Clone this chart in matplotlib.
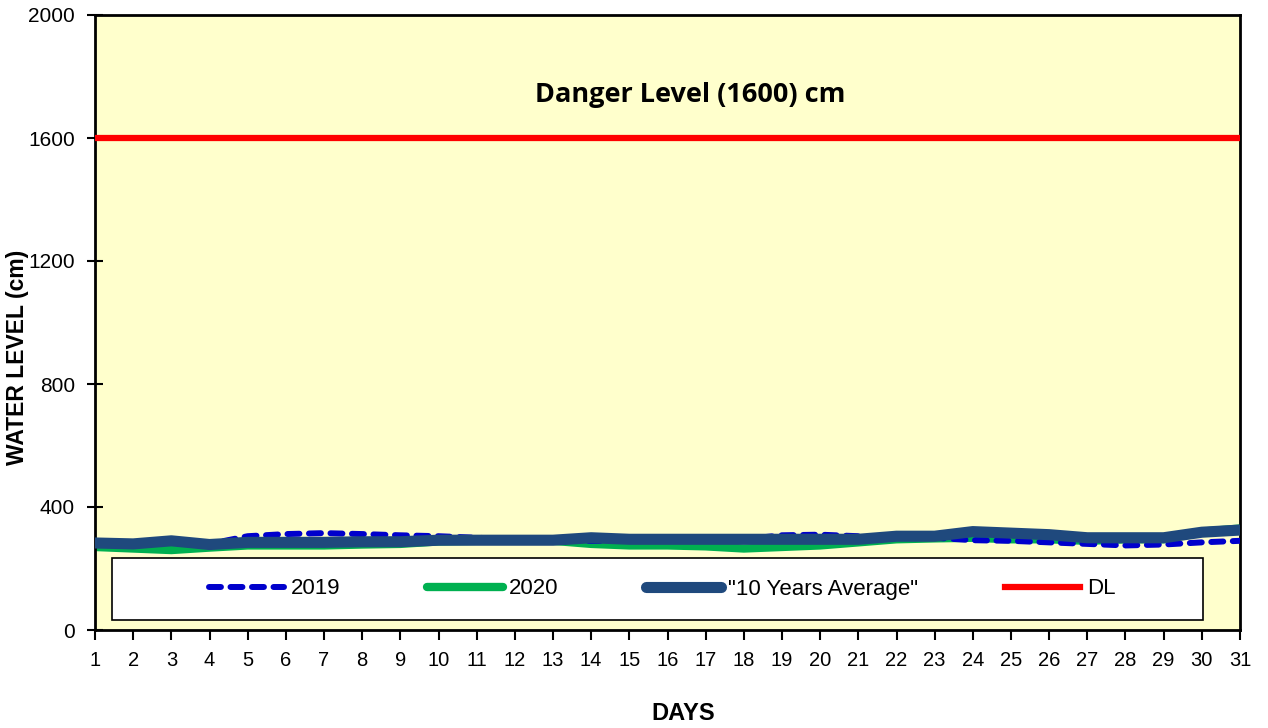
import matplotlib
matplotlib.use('Agg')
import matplotlib.pyplot as plt
from matplotlib.patches import Rectangle

plt.rcParams['font.family'] = ['Liberation Sans', 'DejaVu Sans']

days = list(range(1, 32))
y2019 = [280, 275, 285, 280, 305, 312, 315, 312, 308, 305, 300, 295, 290, 290, 290,
         290, 292, 295, 308, 310, 305, 300, 300, 292, 290, 285, 280, 275, 278, 285, 290]
y2020 = [270, 265, 260, 268, 275, 275, 275, 278, 280, 288, 290, 290, 290, 280, 275,
         275, 272, 265, 270, 275, 285, 295, 298, 300, 295, 295, 290, 295, 295, 320, 330]
avg10 = [283, 280, 290, 278, 285, 285, 285, 287, 287, 292, 292, 292, 292, 300, 295,
         295, 295, 295, 295, 295, 295, 305, 305, 320, 315, 310, 300, 300, 300, 318, 325]
danger_level = 1600
yticks = [0, 400, 800, 1200, 1600, 2000]

fig = plt.figure(figsize=(12.68, 7.28), dpi=100)
ax = fig.add_axes([95/1268, 1 - 630/728, 1145/1268, 615/728])
ax.set_facecolor('#FFFFCC')

ax.plot(days, y2020, color='#00B050', lw=6, solid_capstyle='round', label='2020', zorder=2)
ax.plot(days, y2019, color='#0000CC', lw=4.3, ls=(0, (2, 1.6)), dash_capstyle='round',
        label='2019', zorder=3)
ax.plot(days, avg10, color='#1F497D', lw=8, solid_capstyle='round',
        label='"10 Years Average"', zorder=4)
ax.plot(days, [danger_level] * len(days), color='#FF0000', lw=4.5, label='DL', zorder=5)

ax.set_xlim(1, 31)
ax.set_ylim(0, 2000)
ax.set_xticks(days)
ax.set_yticks(yticks)
ax.tick_params(axis='x', direction='out', length=7, width=1.5, labelsize=14.5, pad=8)
ax.tick_params(axis='y', direction='inout', length=11, width=1.5, labelsize=15, pad=9)
for s in ax.spines.values():
    s.set_linewidth(2)

ax.text(16.6, 1740, 'Danger Level (1600) cm', ha='center', va='center',
        fontsize=19.5, fontweight='bold', family=['Open Sans', 'DejaVu Sans'])

ax.set_ylabel('WATER LEVEL (cm)', fontsize=16.5, fontweight='bold', va='center')
ax.yaxis.set_label_coords((17 - 95) / 1145, (630 - 357) / 615)
ax.set_xlabel('DAYS', fontsize=17, fontweight='bold', va='top')
ax.xaxis.set_label_coords((683 - 95) / 1145, (630 - 702) / 615)

# legend frame drawn separately, entries centred in it
frame = Rectangle((17/1145, 10/615), 1091/1145, 62/615, transform=ax.transAxes,
                  facecolor='white', edgecolor='black', lw=1.2, zorder=6)
ax.add_patch(frame)
handles, labels = ax.get_legend_handles_labels()
order = [1, 0, 2, 3]
leg = ax.legend([handles[i] for i in order], [labels[i] for i in order],
                ncol=4, loc='center', bbox_to_anchor=((662 - 95) / 1145, (630 - 589) / 615),
                frameon=False, fontsize=16, handlelength=3.4, handletextpad=0.3,
                columnspacing=3.9)
leg.set_zorder(7)

fig.savefig('out.png', dpi=100, facecolor='white')
